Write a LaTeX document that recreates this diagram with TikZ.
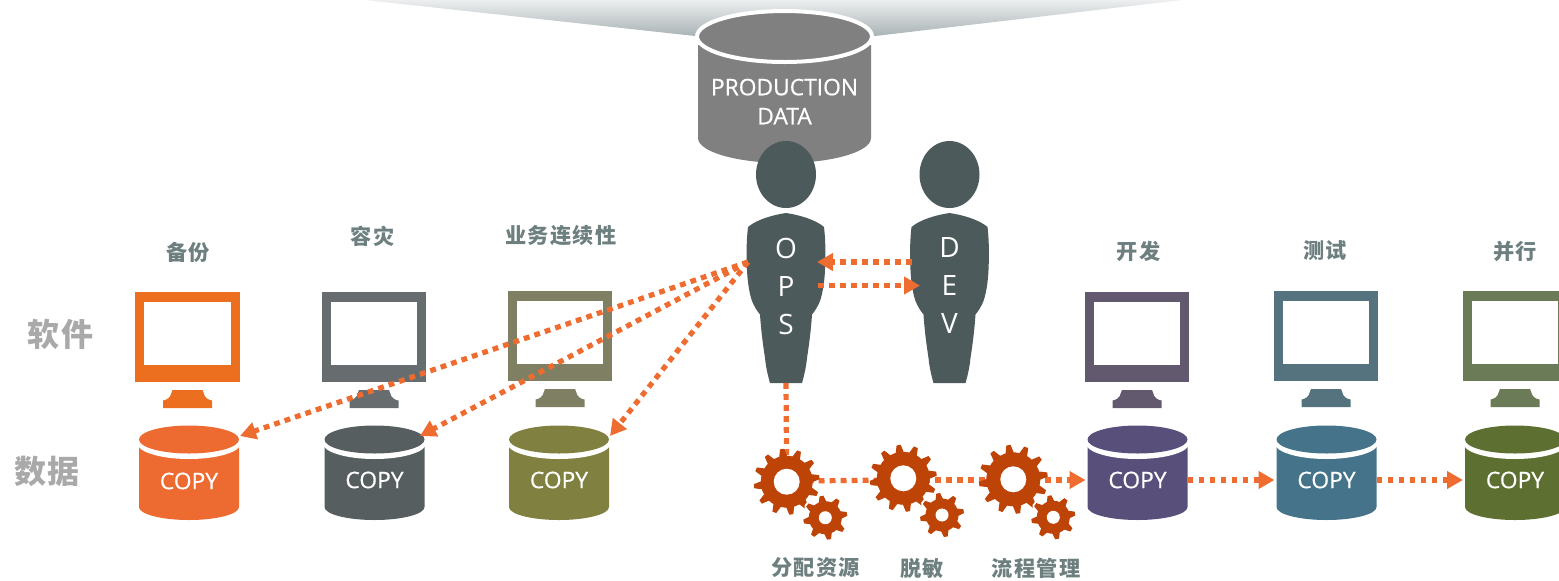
\documentclass[tikz,border=0pt]{standalone}
\usepackage{fontspec}
\usetikzlibrary{arrows.meta}
\setmainfont{Open Sans}
\newfontfamily\copyfont[FakeBold=0.6]{Open Sans}
\newfontfamily\cjkfont[LetterSpace=6]{Noto Sans CJK SC}
\definecolor{arrowcol}{HTML}{EE6C2F}
\definecolor{gearcol}{HTML}{BD4306}
\definecolor{personcol}{HTML}{4C5A5B}
\definecolor{labelcol}{HTML}{6D7F7F}
\definecolor{sidecol}{HTML}{A9A9A9}
\definecolor{funneltop}{RGB}{236,238,239}
\definecolor{funnelbot}{RGB}{169,179,181}
\definecolor{mone}{RGB}{236,110,31}
\definecolor{mtwo}{RGB}{103,108,110}
\definecolor{mthree}{RGB}{127,127,99}
\definecolor{mfour}{RGB}{98,89,111}
\definecolor{mfive}{RGB}{85,115,127}
\definecolor{msix}{RGB}{107,122,87}
\definecolor{cone}{RGB}{237,107,48}
\definecolor{ctwo}{RGB}{86,94,96}
\definecolor{cthree}{RGB}{128,128,64}
\definecolor{cfour}{RGB}{88,80,122}
\definecolor{cfive}{RGB}{68,115,138}
\definecolor{csix}{RGB}{94,112,49}
\tikzset{
  flow/.style={draw=arrowcol,line width=2.6pt,dash pattern=on 2.9pt off 2.6pt,-{Triangle[length=8pt,width=8.5pt,fill=arrowcol]}},
  flowplain/.style={draw=arrowcol,line width=2.6pt,dash pattern=on 2.9pt off 2.6pt},
  copylabel/.style={font=\copyfont\fontsize{11.4}{13}\selectfont,text=white,inner sep=0pt,outer sep=0pt,minimum width=50pt},
  toplabel/.style={font=\cjkfont\bfseries\fontsize{10.6}{12}\selectfont,text=labelcol,inner sep=0pt},
  sidelabel/.style={font=\cjkfont\bfseries\fontsize{16}{18}\selectfont,text=sidecol,inner sep=0pt},
  personlabel/.style={font=\fontsize{14}{19}\selectfont,text=white,align=center,inner sep=0pt},
  gearbox/.style={inner sep=0pt,outer sep=0pt,minimum size=10pt}
}
% monitor: centre x, half width, top y, colour
\newcommand\monitorshape[4]{%
  \begin{scope}[shift={(#1,#3)}]
    \fill[#4] (-#2,0) rectangle (#2,90);
    \fill[white] (-#2+8.7,9.5) rectangle (#2-8.7,73);
    \fill[#4] (-15,98) -- (15,98) -- (16,100.5) .. controls (17,106) and (21,108) .. (24.5,108.5) -- (24.5,116) -- (-24.5,116) -- (-24.5,108.5) .. controls (-21,108) and (-17,106) .. (-16,100.5) -- cycle;
  \end{scope}}
% cylinder: centre x, colour
\newcommand\copycyl[2]{%
  \begin{scope}[shift={(#1,0)}]
    \fill[#2] (-50,445) -- (-50,507) arc[start angle=180,end angle=0,x radius=50,y radius=13] -- (50,445) -- cycle;
    \fill[white] (0,443) ellipse[x radius=52,y radius=16];
    \fill[#2] (0,439.5) ellipse[x radius=50,y radius=14];
  \end{scope}}
% person: centre x
\newcommand\personshape[1]{%
  \begin{scope}[shift={(#1,0)}]
    \fill[personcol] (0,174.5) ellipse[x radius=30,y radius=33.5];
    \fill[personcol] (0,213) .. controls (14,215) and (30,220) .. (38,227)
      .. controls (39.5,240) and (39.5,250) .. (39.3,261)
      .. controls (39,280) and (37,292) .. (34,301)
      .. controls (32,306) and (29,311) .. (26,314.5)
      .. controls (25,330) and (23,345) .. (21,358)
      .. controls (20,368) and (18,376) .. (16,383)
      -- (-16,383)
      .. controls (-18,376) and (-20,368) .. (-21,358)
      .. controls (-23,345) and (-25,330) .. (-26,314.5)
      .. controls (-29,311) and (-32,306) .. (-34,301)
      .. controls (-37,292) and (-39,280) .. (-39.3,261)
      .. controls (-39.5,250) and (-39.5,240) .. (-38,227)
      .. controls (-30,220) and (-14,215) .. (0,213) -- cycle;
  \end{scope}}
% gear: x, y, outer, root, hole, teeth, rotation, style
\newcommand\gearshape[8]{%
  \begin{scope}[shift={(#1,#2)},rotate=#7]
    \pgfmathsetmacro\toothbase{#4*3.1416/#6*0.62}
    \pgfmathsetmacro\toothtip{#4*3.1416/#6*0.30}
    \fill[#8] (0,0) circle[radius=#4];
    \foreach \i in {1,...,#6}{
      \fill[#8,rotate=360*\i/#6,line join=round] (-\toothbase,#4-1.5) -- (-\toothtip,#3-0.5) -- (\toothtip,#3-0.5) -- (\toothbase,#4-1.5) -- cycle;
    }
  \end{scope}}
\newcommand\smallgear[6]{%
  \gearshape{#1}{#2}{#3}{#4}{#5}{#6}{10}{draw=white,line width=2pt,fill=white}%
  \gearshape{#1}{#2}{#3}{#4}{#5}{#6}{10}{gearcol}%
  \fill[white] (#1,#2) circle[radius=#5];}
\newcommand\biggear[6]{%
  \gearshape{#1}{#2}{#3}{#4}{#5}{#6}{8}{gearcol}%
  \fill[white] (#1,#2) circle[radius=#5];}
\begin{document}
\begin{tikzpicture}[x=0.5pt,y=-0.5pt]
\useasboundingbox (0,0) rectangle (1559,580);
\clip (0,0) rectangle (1559,580);
% funnel
\shade[top color=funneltop,bottom color=funnelbot]
  (365,0) -- (1182,0) -- (875,36) -- (695,36) -- cycle;
% production cylinder
\fill[black!50] (698,45) -- (698,138) arc[start angle=180,end angle=0,x radius=86.5,y radius=25] -- (871,45) -- cycle;
\fill[black!50,draw=white,line width=2pt] (784.5,36.5) ellipse[x radius=87.5,y radius=25.5];
\node[copylabel,align=center,minimum width=0pt,font=\copyfont\fontsize{11.4}{14.5}\selectfont] (prod) at (784.5,101.5) {PRODUCTION\\DATA};
% monitors
\monitorshape{187.5}{52.5}{292}{mone}
\monitorshape{374}{52}{292}{mtwo}
\monitorshape{560}{52}{291}{mthree}
\monitorshape{1137}{52}{292}{mfour}
\monitorshape{1326}{52}{291}{mfive}
\monitorshape{1515}{52}{291}{msix}
% cylinders
\copycyl{189}{cone}
\copycyl{374.5}{ctwo}
\copycyl{559}{cthree}
\copycyl{1137.5}{cfour}
\copycyl{1326.5}{cfive}
\copycyl{1515}{csix}
\node[copylabel] (c1) at (189,481) {COPY};
\node[copylabel] (c2) at (374.5,480) {COPY};
\node[copylabel] (c3) at (559,480) {COPY};
\node[copylabel] (c4) at (1137.5,480) {COPY};
\node[copylabel] (c5) at (1326.5,480) {COPY};
\node[copylabel] (c6) at (1515,480) {COPY};
% people
\personshape{786}
\personshape{949.5}
\node[personlabel] (ops) at (786,286) {O\\P\\S};
\node[personlabel] (dev) at (949.5,285) {D\\E\\V};
% anchors
\coordinate (opsw) at (748,262);
\coordinate (opsb) at (786,383);
\coordinate (opsin) at (817,262);
\coordinate (opsout) at (818,285.5);
\coordinate (devout) at (912,262);
\coordinate (devin) at (920,285.5);
\coordinate (c1t) at (240,436);
\coordinate (c2t) at (420,436);
\coordinate (c3t) at (610,436);
\node[gearbox] (g1) at (786.7,481) {};
\node[gearbox] (g2) at (903.3,480) {};
\node[gearbox] (g3) at (1013.3,480) {};
% connectors
\draw[flow] (opsw) -- (c1t);
\draw[flow] (opsw) -- (c2t);
\draw[flow] (opsw) -- (c3t);
\draw[flow] (devout) -- (opsin);
\draw[flow] (opsout) -- (devin);
\draw[flowplain] (opsb) -- (g1);
\draw[flowplain] (g1.east) -- (g2.west);
\draw[flowplain] (g2.east) -- (g3.west);
\draw[flow] (g3.east) -- ([xshift=-1pt]c4.west);
\draw[flow] (c4.east) -- ([xshift=-1pt]c5.west);
\draw[flow] (c5.east) -- ([xshift=-1pt]c6.west);
% gears
\biggear{786.7}{481.7}{33.5}{26}{13}{12}
\smallgear{825.3}{517.7}{22.5}{16.5}{6.5}{8}
\biggear{903.3}{478.3}{34}{26.5}{13}{12}
\smallgear{942}{515}{22.5}{16.5}{6.5}{8}
\biggear{1013.3}{479.3}{35}{27}{13}{12}
\smallgear{1053.3}{517.3}{22.5}{16.5}{6.5}{8}
% labels
\node[toplabel] (l1) at (188,252) {备份};
\node[toplabel] (l2) at (372.5,236) {容灾};
\node[toplabel] (l3) at (561,236) {业务连续性};
\node[toplabel] (l4) at (1138.5,251) {开发};
\node[toplabel] (l5) at (1325,251) {测试};
\node[toplabel] (l6) at (1515,251) {并行};
\node[toplabel] (l7) at (815.5,568) {分配资源};
\node[toplabel] (l8) at (922,568) {脱敏};
\node[toplabel] (l9) at (1036,568) {流程管理};
\node[sidelabel] (s1) at (60.5,334) {软件};
\node[sidelabel] (s2) at (47,471) {数据};
\end{tikzpicture}
\end{document}
